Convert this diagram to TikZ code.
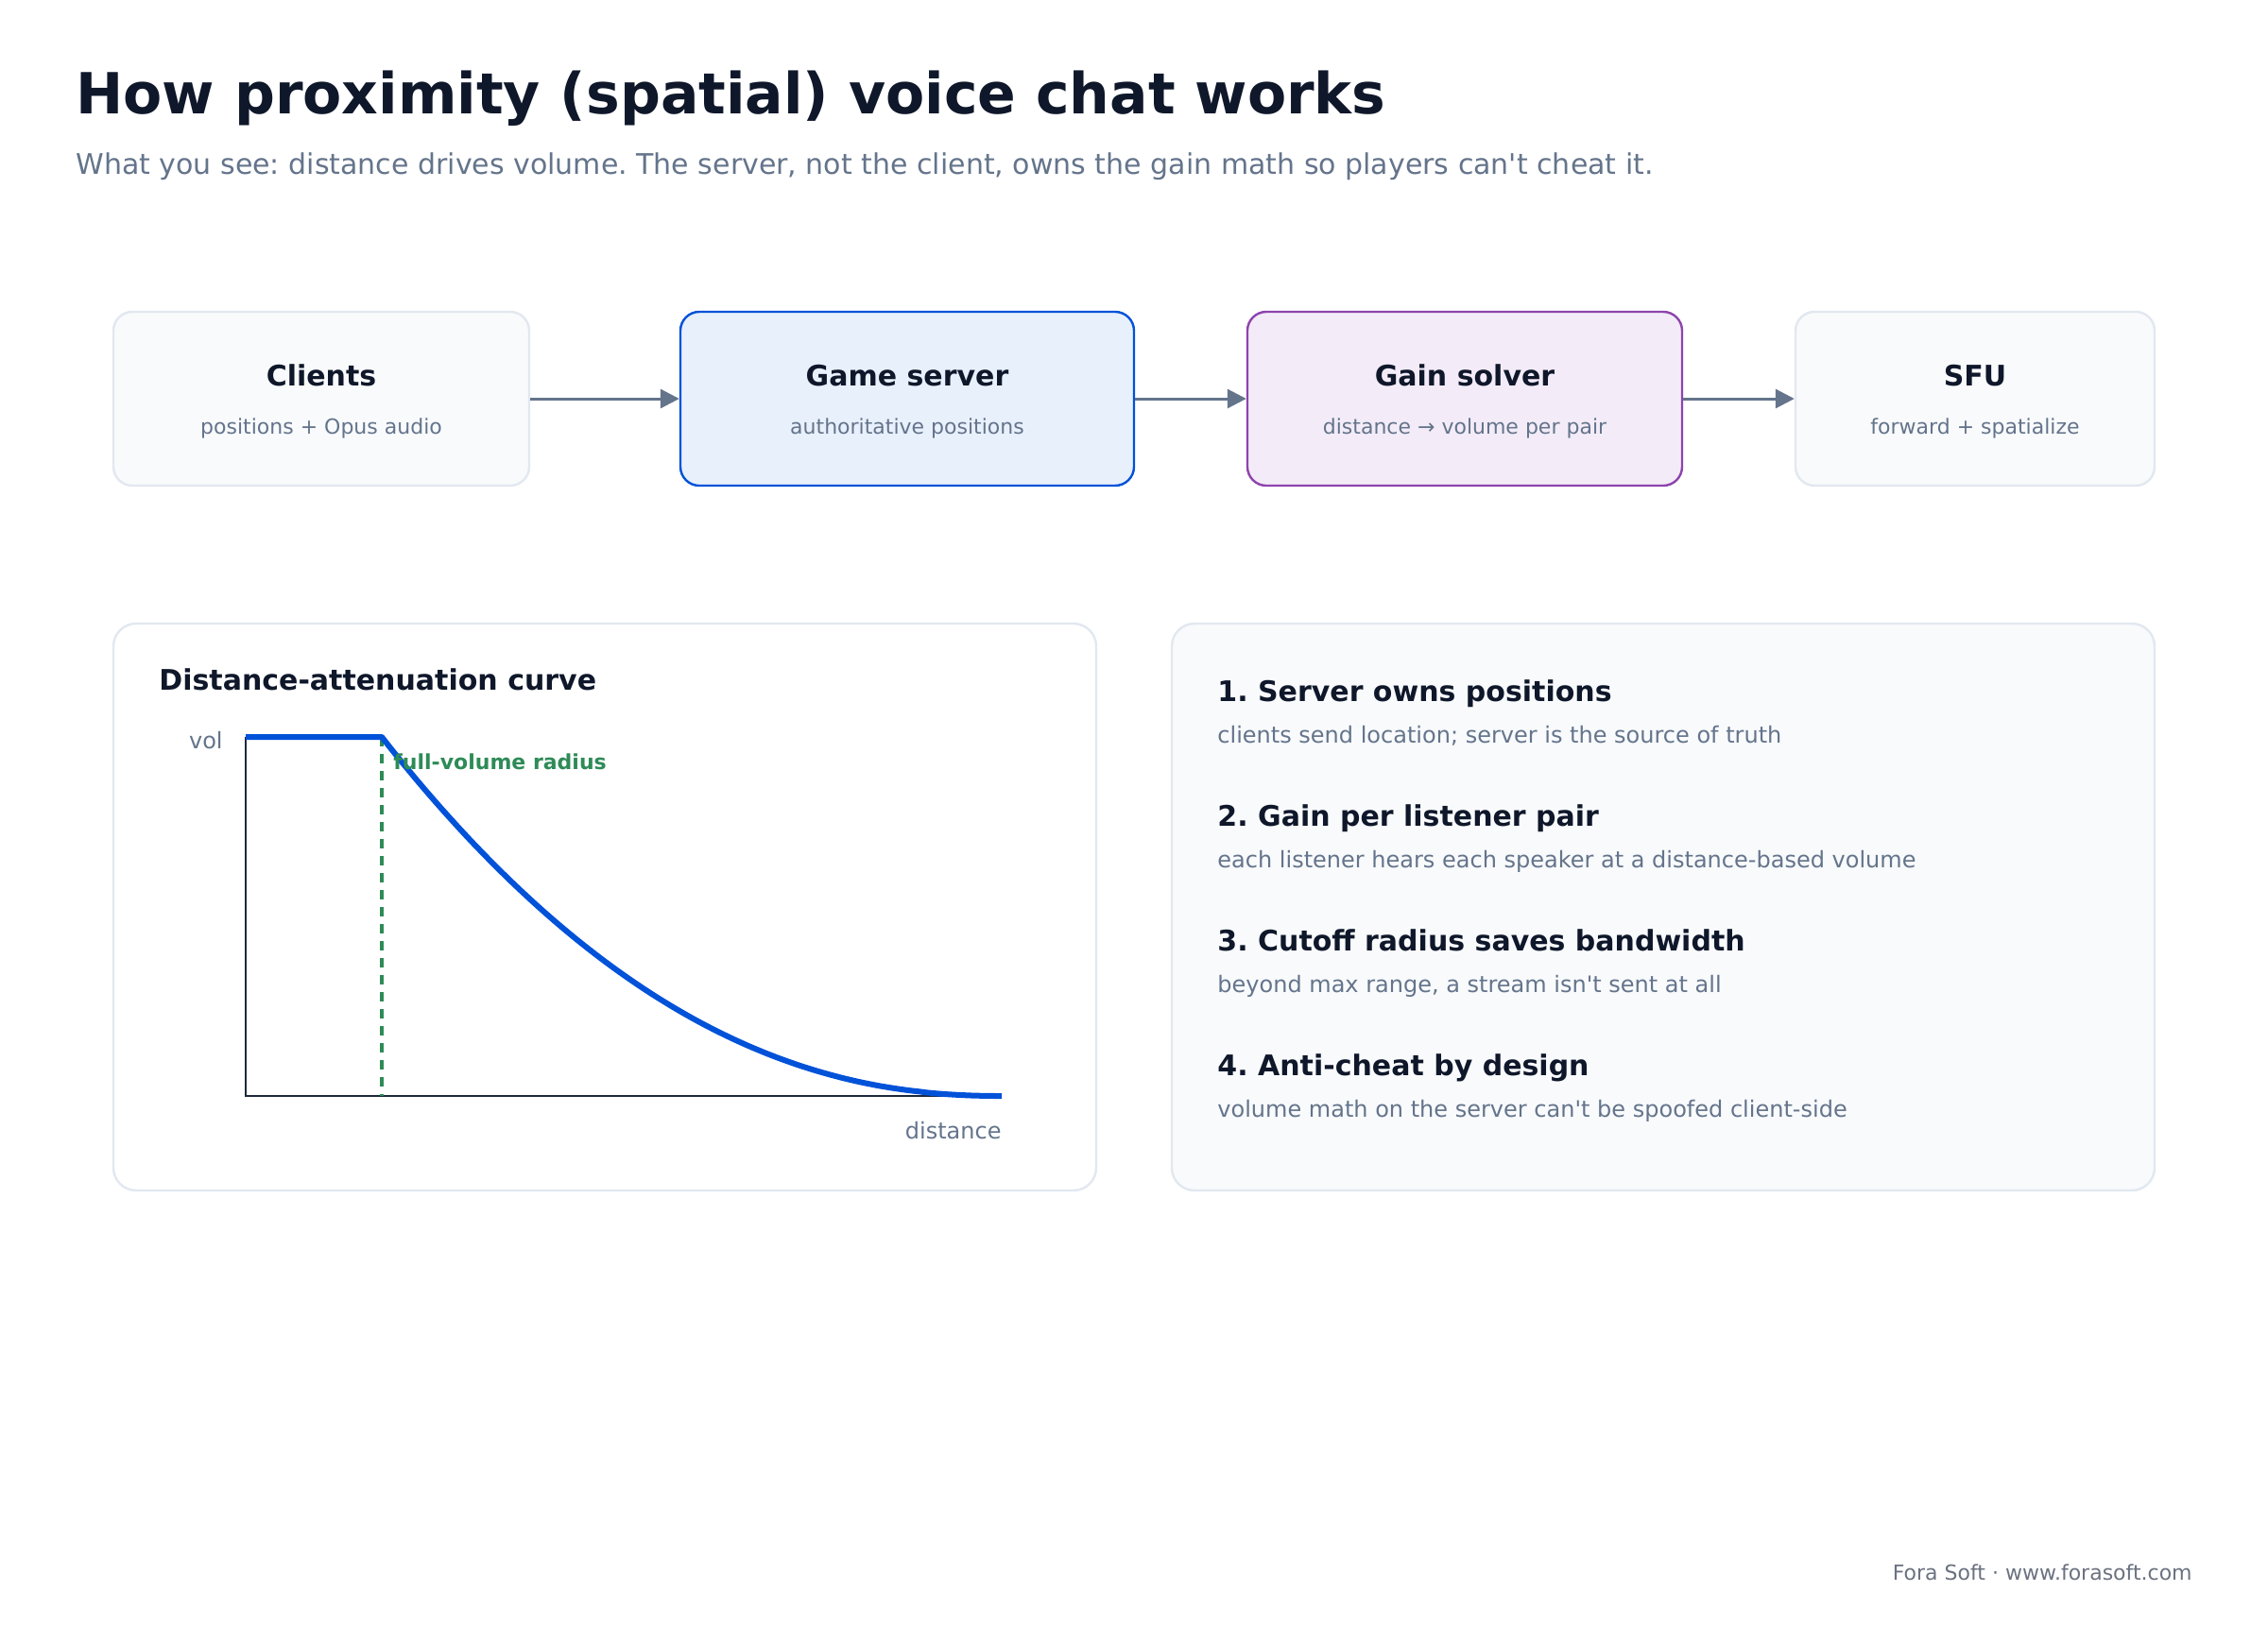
\documentclass[tikz,border=0pt]{standalone}
\usepackage{fontspec}
\setmainfont{DejaVu Sans}
\usetikzlibrary{arrows.meta}
\frenchspacing
\newcommand{\apos}{\textquotesingle}
\definecolor{ink}{HTML}{0F172A}
\definecolor{slate}{HTML}{64748B}
\definecolor{edgegray}{HTML}{E2E8F0}
\definecolor{panelfill}{HTML}{F8FAFC}
\definecolor{brandblue}{HTML}{0052D9}
\definecolor{bluefill}{HTML}{E8F0FC}
\definecolor{brandpurple}{HTML}{8E44AD}
\definecolor{purplefill}{HTML}{F3ECF8}
\definecolor{brandgreen}{HTML}{2E8B57}
\definecolor{axiscol}{HTML}{1E293B}
\definecolor{footcol}{HTML}{6B7280}
\begin{document}
\begin{tikzpicture}[x=1pt,y=-1pt,
  stagebox/.style={draw=edgegray, fill=panelfill, line width=1.2pt, rounded corners=10pt, minimum height=92pt, inner sep=0pt},
  panelbox/.style={draw=edgegray, line width=1.2pt, rounded corners=12pt, minimum width=520pt, minimum height=300pt, inner sep=0pt},
  ttl/.style={font=\fontsize{15}{18}\selectfont\bfseries, text=ink, anchor=base, inner sep=0pt},
  subt/.style={font=\fontsize{11}{13}\selectfont, text=slate, anchor=base, inner sep=0pt},
  itemt/.style={font=\fontsize{15}{18}\selectfont\bfseries, text=ink, anchor=base west, inner sep=0pt},
  items/.style={font=\fontsize{12}{14}\selectfont, text=slate, anchor=base west, inner sep=0pt},
  arr/.style={draw=slate, line width=1.5pt, -{Triangle[length=10pt,width=10pt]}},
  curveline/.style={draw=brandblue, line width=3pt, line join=round},
  axisline/.style={draw=axiscol, line width=1.4pt}
]
\useasboundingbox[fill=white] (0,0) rectangle (1200,860);

% header
\node[anchor=base west, inner sep=0pt, font=\fontsize{30}{36}\selectfont\bfseries, text=ink] (title) at (40,60) {How proximity (spatial) voice chat works};
\node[anchor=base west, inner sep=0pt, font=\fontsize{15}{18}\selectfont, text=slate] (subtitle) at (40,92) {What you see: distance drives volume. The server, not the client, owns the gain math so players can\apos t cheat it.};

% pipeline
\node[stagebox, minimum width=220pt] (clients) at (170,211) {};
\node[stagebox, minimum width=240pt, draw=brandblue, fill=bluefill] (game) at (480,211) {};
\node[stagebox, minimum width=230pt, draw=brandpurple, fill=purplefill] (gain) at (775,211) {};
\node[stagebox, minimum width=190pt] (sfu) at (1045,211) {};

\node[ttl] (clientsT) at (170,204) {Clients};
\node[subt] (clientsS) at (170,229.5) {positions + Opus audio};
\node[ttl] (gameT) at (480,204) {Game server};
\node[subt] (gameS) at (480,229.5) {authoritative positions};
\node[ttl] (gainT) at (775,204) {Gain solver};
\node[subt] (gainS) at (775,229.5) {distance → volume per pair};
\node[ttl] (sfuT) at (1045,204) {SFU};
\node[subt] (sfuS) at (1045,229.5) {forward + spatialize};

\draw[arr] (clients.east) -- (game.west);
\draw[arr] (game.east) -- (gain.west);
\draw[arr] (gain.east) -- (sfu.west);

% panels
\node[panelbox, fill=white] (curvepanel) at (320,480) {};
\node[panelbox, fill=panelfill] (listpanel) at (880,480) {};

% curve panel
\node[anchor=base west, inner sep=0pt, font=\fontsize{15}{18}\selectfont\bfseries, text=ink] (curveT) at (84,365) {Distance-attenuation curve};
\draw[axisline] (130,390) -- (130,580) -- (530,580);
\draw[draw=brandgreen, line width=1.6pt, dash pattern=on 5pt off 4pt] (202,390) -- (202,580);
\draw[curveline] (130,390) -- (202,390) -- plot[domain=0:0.99, samples=90] ({202+328*\x},{580-190*(1-\x)^2.2}) -- (530,580);
\node[anchor=base west, inner sep=0pt, font=\fontsize{11}{13}\selectfont\bfseries, text=brandgreen] (radiusL) at (208,407) {full-volume radius};
\node[anchor=base east, inner sep=0pt, font=\fontsize{12}{14}\selectfont, text=slate] (volL) at (118,396) {vol};
\node[anchor=base east, inner sep=0pt, font=\fontsize{12}{14}\selectfont, text=slate] (distL) at (530,602.5) {distance};

% list panel
\node[itemt] (i1) at (644,371) {1. Server owns positions};
\node[items] (s1) at (644,393) {clients send location; server is the source of truth};
\node[itemt] (i2) at (644,437) {2. Gain per listener pair};
\node[items] (s2) at (644,459) {each listener hears each speaker at a distance-based volume};
\node[itemt] (i3) at (644,503) {3. Cutoff radius saves bandwidth};
\node[items] (s3) at (644,525) {beyond max range, a stream isn\apos t sent at all};
\node[itemt] (i4) at (644,569) {4. Anti-cheat by design};
\node[items] (s4) at (644,591) {volume math on the server can\apos t be spoofed client-side};

% footer
\node[anchor=base east, inner sep=0pt, font=\fontsize{11}{13}\selectfont, text=footcol] (footer) at (1160,836) {Fora Soft · www.forasoft.com};
\end{tikzpicture}
\end{document}
